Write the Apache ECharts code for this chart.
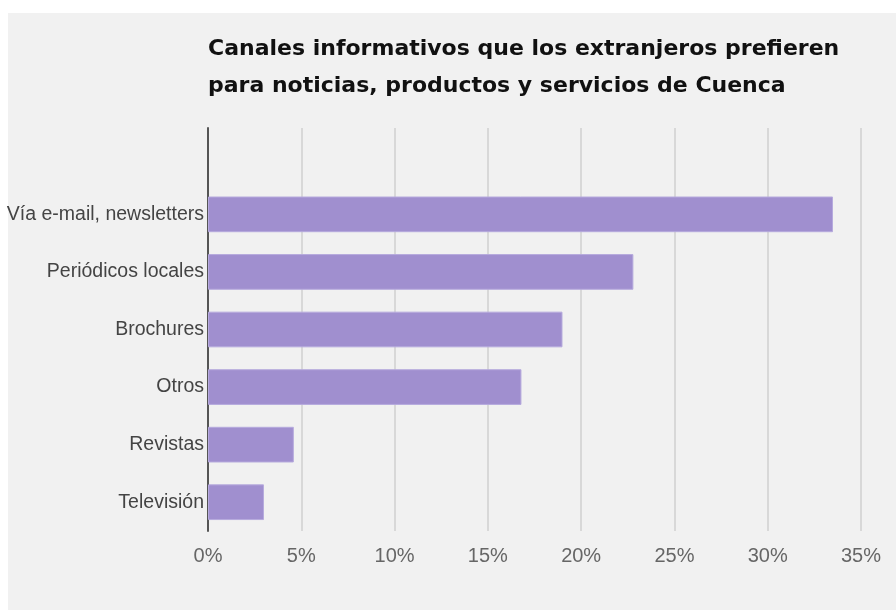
<!DOCTYPE html>
<html>
<head>
<meta charset="utf-8">
<script src="https://cdn.jsdelivr.net/npm/echarts@6/dist/echarts.min.js"></script>
<style>
  html, body { margin: 0; padding: 0; background: #fff; }
  #chart { width: 896px; height: 610px; }
</style>
</head>
<body>
<div id="chart"></div>
<script>
// canales, de abajo hacia arriba
var categorias = ['Televisión', 'Revistas', 'Otros', 'Brochures', 'Periódicos locales', 'Vía e-mail, newsletters'];
var porcentajes = [3.0, 4.6, 16.8, 19.0, 22.8, 33.5];
var tituloLineas = ['Canales informativos que los extranjeros prefieren', 'para noticias, productos y servicios de Cuenca'];

// hueco vacio arriba, como en el original
var ejeY = categorias.concat(['']);
var datos = porcentajes.concat(['-']);

var myChart = echarts.init(document.getElementById('chart'));

var option = {
    backgroundColor: '#ffffff',
    animation: false,
    graphic: [{
        type: 'rect',
        z: -10,
        shape: { x: 8, y: 13, width: 888, height: 597 },
        style: { fill: '#f1f1f1' }
    }],
    title: {
        text: tituloLineas.join('\n'),
        left: 203,
        top: 26,
        textStyle: {
            fontFamily: 'DejaVu Sans',
            fontWeight: 'bold',
            fontSize: 22,
            lineHeight: 37,
            color: '#111'
        }
    },
    grid: {
        left: 208,
        right: 35,
        top: 128,
        bottom: 79
    },
    xAxis: {
        type: 'value',
        min: 0,
        max: 35,
        interval: 5,
        axisLine: { show: false },
        axisTick: { show: false },
        splitLine: { lineStyle: { color: '#d8d8d8', width: 2 } },
        axisLabel: {
            formatter: '{value}%',
            margin: 15,
            fontFamily: 'Liberation Sans',
            fontSize: 20,
            color: '#666'
        }
    },
    yAxis: {
        type: 'category',
        data: ejeY,
        axisLine: { show: true, lineStyle: { color: '#555', width: 2 } },
        axisTick: { show: false },
        axisLabel: {
            margin: 4,
            fontFamily: 'Liberation Sans',
            fontSize: 19.5,
            color: '#444'
        }
    },
    series: [{
        type: 'bar',
        data: datos,
        barWidth: '62%',
        itemStyle: {
            color: '#a08fcf',
            borderColor: '#b6aadd',
            borderWidth: 1
        }
    }]
};

myChart.setOption(option);
</script>
</body>
</html>
